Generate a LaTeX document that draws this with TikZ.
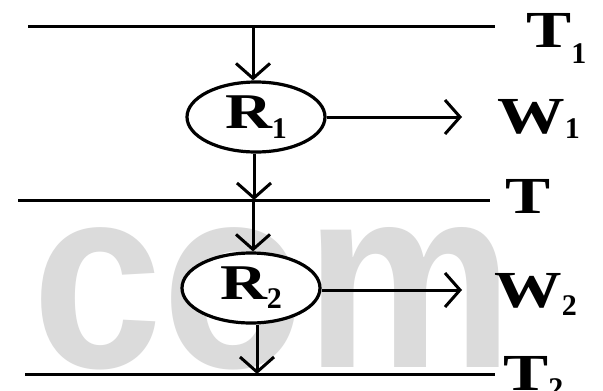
\documentclass[tikz,border=0pt]{standalone}
\usepackage{fontspec}
\setmainfont{Liberation Serif}
\newfontfamily\wmfont{Liberation Sans}
\usetikzlibrary{arrows.meta,shapes.geometric}
\newcommand{\lsub}[2][8pt]{\raisebox{-#1}{\fontsize{30}{30}\selectfont #2}}
\newcommand{\wide}[1]{\scalebox{1.3}[1]{#1}}
\begin{document}
\begin{tikzpicture}[x=1pt,y=-1pt,
  line/.style={line width=3pt},
  flow/.style={line width=3pt,-{Straight Barb[length=15pt,width=34pt,line width=3pt]}},
  lab/.style={font=\fontsize{52}{52}\selectfont\bfseries, inner sep=0pt, anchor=base west},
  react/.style={draw, fill=white, ellipse, line width=3.2pt, minimum width=138pt, minimum height=70pt, inner sep=0pt,
    font=\fontsize{50}{50}\selectfont\bfseries}
]
\useasboundingbox (0,0) rectangle (603,391);
\clip (0,0) rectangle (603,391);
\fill[white] (0,0) rectangle (603,391);
% watermark
\node[anchor=base west, inner sep=0pt, text=black!14, font=\wmfont\bfseries\fontsize{260}{260}\selectfont, xscale=0.9, transform shape] (wm) at (32,367) {com};
% lines
\coordinate (t1a) at (28,26);  \coordinate (t1b) at (495,26);
\coordinate (tma) at (18,200); \coordinate (tmb) at (490,200);
\coordinate (t2a) at (25,374); \coordinate (t2b) at (495,374);
\draw[line] (t1a) -- (t1b);
\draw[line] (tma) -- (tmb);
\draw[line] (t2a) -- (t2b);
\coordinate (s1) at (253,26);
\coordinate (m1) at (254,200);
\coordinate (m2) at (253,200);
\coordinate (e2) at (257,374);
% reactors
\node[react] (r1) at (256,117) {\wide{R}\lsub[10pt]{1}};
\node[react] (r2) at (251,288) {\wide{R}\lsub[9pt]{2}};
% labels
\node[lab] (lt1) at (526,47) {\wide{T}\lsub[16pt]{1}};
\node[lab] (lw1) at (497,133) {\wide{W}\lsub[5pt]{1}};
\node[lab] (lt) at (505,213) {\wide{T}};
\node[lab] (lw2) at (494,307) {\wide{W}\lsub[8pt]{2}};
\node[lab] (lt2) at (503,390) {\wide{T}\lsub[8pt]{2}};
% arrows
\draw[flow] (s1) -- (s1 |- r1.north);
\draw[flow] (r1.south -| m1) -- (m1);
\draw[flow] (m2) -- (m2 |- r2.north);
\draw[flow] (r2.south -| e2) -- (e2);
\coordinate (w1e) at (462,117);
\coordinate (w2e) at (462,290);
\draw[flow] (r1.east |- w1e) -- (w1e);
\draw[flow] (r2.east |- w2e) -- (w2e);
\end{tikzpicture}
\end{document}
